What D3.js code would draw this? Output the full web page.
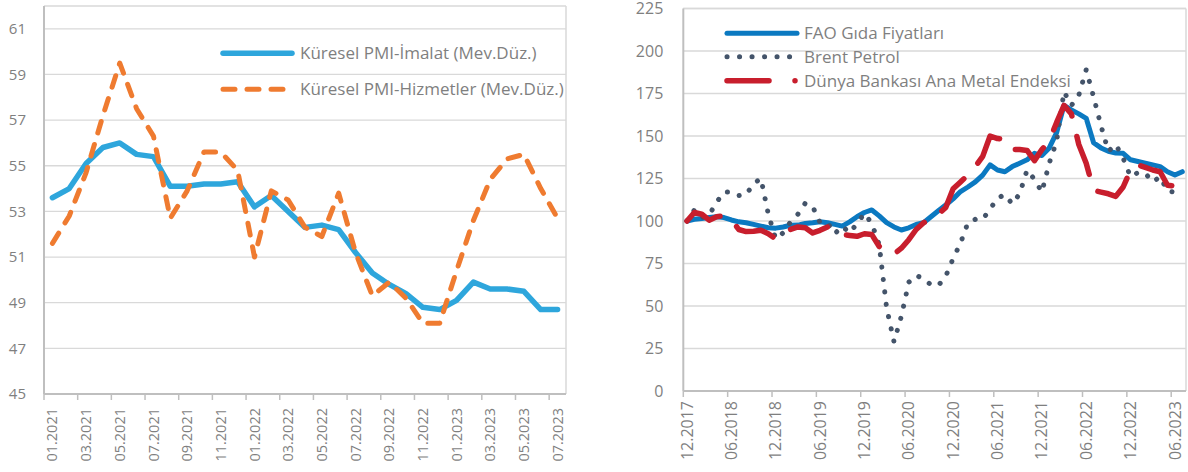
<!DOCTYPE html>
<html>
<head>
<meta charset="utf-8">
<script src="https://cdn.jsdelivr.net/npm/d3@7"></script>
<style>
body { margin: 0; background: #fff; }
svg { display: block; font-family: "Open Sans", sans-serif; }
</style>
</head>
<body>
<svg id="chart" width="1188" height="472"></svg>
<script>
const fmtMonth = d3.timeFormat('%m.%Y')

// left panel: global PMI
const pmiMonths = d3.timeMonths(new Date(2021, 0, 1), new Date(2023, 7, 1)).map(fmtMonth)
const pmiManufacturing = [53.6, 54.0, 55.1, 55.8, 56.0, 55.5, 55.4, 54.1, 54.1, 54.2, 54.2, 54.3,
    53.2, 53.7, 53.0, 52.3, 52.4, 52.2, 51.2, 50.3, 49.8, 49.4, 48.8, 48.7,
    49.1, 49.9, 49.6, 49.6, 49.5, 48.7, 48.7]
const pmiServices = [51.6, 52.8, 54.7, 57.2, 59.5, 57.5, 56.3, 52.7, 53.9, 55.6, 55.6, 54.8,
    51.0, 53.9, 53.5, 52.3, 51.9, 53.8, 51.2, 49.3, 49.9, 49.2, 48.1, 48.1,
    50.4, 52.6, 54.4, 55.3, 55.5, 54.0, 52.7]
const pmiTicks = [45, 47, 49, 51, 53, 55, 57, 59, 61]
const pmiNames = ['Küresel PMI-İmalat (Mev.Düz.)', 'Küresel PMI-Hizmetler (Mev.Düz.)']

// right panel: commodity indices, 12.2017 = 100
const cmdMonths = d3.timeMonths(new Date(2017, 11, 1), new Date(2023, 7, 1)).map(fmtMonth)
const faoFood = [100, 101, 101.5, 102, 102.5, 102, 100.6, 99.5, 99, 98, 97, 96,
    95.8, 96.5, 97.5, 97.6, 98.5, 99, 99.6, 99, 98, 97, 99.5, 102.5,
    105, 106.5, 103, 99, 96.5, 94.7, 96, 98, 99, 102.5, 106, 109.4,
    113, 117.3, 120, 123, 127, 133, 130, 129, 132, 134, 136, 139.8,
    138.5, 143, 152, 168, 165.3, 163, 160.4, 146, 143, 141, 140, 139.8,
    136, 135, 134, 133, 132, 129, 127, 129]
const brentOil = [100, 106.5, 102, 103.5, 111, 117, 117, 115, 115.5, 122, 125, 104,
    89.5, 93, 99.5, 104, 110.5, 108.5, 99, 99, 92.5, 97, 93, 98.5,
    104.5, 98.5, 86, 49, 29, 44, 64, 68, 66, 62.5, 62, 67.5,
    78, 87, 99, 101, 101, 107, 113.5, 115.5, 110, 116, 130, 124.5,
    117, 134, 147, 176, 168, 174, 189, 173, 156, 141, 145, 137,
    126, 128.5, 128, 123, 126, 117.5, 117, 119]
const wbMetals = [100, 105, 104, 100.5, 102.5, 103, 101, 95, 93.8, 94, 94.5, 92.5,
    89.5, 93, 95, 96.5, 96, 93, 94.5, 96.5, 94, 92, 91.5, 91,
    92.5, 92, 85, 82, 80.5, 84, 89, 95, 99, 101, 104, 108,
    119, 123, 127, 132, 138, 150, 148.5, 148, 142, 142, 141.5, 135.5,
    142, 147, 158, 168, 163, 145, 134, 118, 117, 116, 114.5, 120,
    130, 133, 131.5, 130, 129, 121, 120.5, 121]
const cmdTicks = [0, 25, 50, 75, 100, 125, 150, 175, 200, 225]
const cmdNames = ['FAO Gıda Fiyatları', 'Brent Petrol', 'Dünya Bankası Ana Metal Endeksi']

const svg = d3.select('#chart')
const textColor = '#7f7f7f'
const gridColor = '#d9d9d9'
const axisColor = '#bfbfbf'

function drawPanel(cfg) {
    const g = svg.append('g')
    const x = d3.scaleBand().domain(cfg.months).range([cfg.left, cfg.right]).padding(0)
    const y = d3.scaleLinear().domain(cfg.yDomain).range([cfg.bottom, cfg.top])
    const bw = x.bandwidth()

    // gridlines
    g.selectAll('.grid').data(cfg.yTicks).join('line')
        .attr('x1', cfg.left).attr('x2', cfg.right)
        .attr('y1', d => y(d)).attr('y2', d => y(d))
        .attr('stroke', gridColor).attr('stroke-width', 1.3)

    // frame top / right
    g.append('line').attr('x1', cfg.left).attr('x2', cfg.right).attr('y1', cfg.top).attr('y2', cfg.top)
        .attr('stroke', gridColor).attr('stroke-width', 1.5)
    g.append('line').attr('x1', cfg.right).attr('x2', cfg.right).attr('y1', cfg.top).attr('y2', cfg.bottom)
        .attr('stroke', gridColor).attr('stroke-width', 1.5)

    // y axis
    const yAxis = g.append('g').attr('transform', 'translate(' + cfg.left + ',0)')
        .call(d3.axisLeft(y).tickValues(cfg.yTicks).tickSize(0).tickPadding(cfg.yPad))
    yAxis.select('.domain').remove()
    yAxis.selectAll('.tick text').attr('fill', textColor).attr('font-size', cfg.yFont)
        .attr('font-family', '"Open Sans", sans-serif')

    // x labels (centered in category), ticks at category boundaries
    const labelled = cfg.months.filter((m, i) => i % cfg.every === 0)
    const xAxis = g.append('g').attr('transform', 'translate(0,' + cfg.bottom + ')')
        .call(d3.axisBottom(x).tickValues(labelled).tickSize(0))
    xAxis.select('.domain').remove()
    xAxis.selectAll('.tick text')
        .attr('transform', 'rotate(-90)')
        .attr('text-anchor', 'end')
        .attr('x', -cfg.xPad).attr('y', 0).attr('dy', '0.35em')
        .attr('fill', textColor).attr('font-size', cfg.xFont)
        .attr('font-family', '"Open Sans", sans-serif')

    g.selectAll('.xtick').data(labelled).join('line')
        .attr('x1', d => x(d)).attr('x2', d => x(d))
        .attr('y1', cfg.bottom).attr('y2', cfg.bottom + 6)
        .attr('stroke', axisColor).attr('stroke-width', 1.5)

    // axis lines
    g.append('line').attr('x1', cfg.left).attr('x2', cfg.left).attr('y1', cfg.top).attr('y2', cfg.bottom)
        .attr('stroke', axisColor).attr('stroke-width', 2)
    g.append('line').attr('x1', cfg.left).attr('x2', cfg.right).attr('y1', cfg.bottom).attr('y2', cfg.bottom)
        .attr('stroke', axisColor).attr('stroke-width', 2)

    const line = d3.line()
        .x((d, i) => x(cfg.months[i]) + bw / 2)
        .y(d => y(d))

    cfg.series.forEach(s => {
        g.append('path').datum(s.values)
            .attr('d', line)
            .attr('fill', 'none')
            .attr('stroke', s.color)
            .attr('stroke-width', s.width)
            .attr('stroke-linecap', 'round')
            .attr('stroke-linejoin', 'round')
            .attr('stroke-dasharray', s.dash || null)
    })

    // legend
    cfg.series.forEach((s, i) => {
        const ly = cfg.legend.y[i]
        const lg = g.append('g')
        if (s.legendDot) {
            lg.append('line').attr('x1', cfg.legend.x1).attr('x2', cfg.legend.x1 + 42)
                .attr('y1', ly).attr('y2', ly)
                .attr('stroke', s.color).attr('stroke-width', s.width).attr('stroke-linecap', 'round')
            lg.append('circle').attr('cx', cfg.legend.x2 - 2).attr('cy', ly).attr('r', s.width / 2)
                .attr('fill', s.color)
        } else {
            lg.append('line').attr('x1', cfg.legend.x1).attr('x2', cfg.legend.x2)
                .attr('y1', ly).attr('y2', ly)
                .attr('stroke', s.color).attr('stroke-width', s.width)
                .attr('stroke-linecap', 'round')
                .attr('stroke-dasharray', s.legendDash || s.dash || null)
        }
        lg.append('text').text(s.name)
            .attr('x', cfg.legend.tx).attr('y', ly).attr('dy', '0.35em')
            .attr('fill', textColor).attr('font-size', cfg.legend.font)
    })
}

drawPanel({
    months: pmiMonths, left: 44, right: 566, top: 6, bottom: 394,
    yDomain: [45, 62], yTicks: pmiTicks, every: 2,
    yPad: 18, yFont: 15, xPad: 14, xFont: 14.5,
    series: [
        { name: pmiNames[0], values: pmiManufacturing, color: '#2ea6dc', width: 5.5 },
        { name: pmiNames[1], values: pmiServices, color: '#ef7b30', width: 5, dash: '12,12' }
    ],
    legend: { x1: 223, x2: 292, tx: 300, y: [53.3, 89.3], font: 17 }
})

drawPanel({
    months: cmdMonths, left: 683.3, right: 1186, top: 8.5, bottom: 391,
    yDomain: [0, 225], yTicks: cmdTicks, every: 6,
    yPad: 20, yFont: 16, xPad: 10, xFont: 16,
    series: [
        { name: cmdNames[0], values: faoFood, color: '#0b79c1', width: 5 },
        { name: cmdNames[1], values: brentOil, color: '#44546a', width: 5, dash: '0.1,12.4' },
        { name: cmdNames[2], values: wbMetals, color: '#c81e2d', width: 5.5, dash: '40,21', legendDot: true }
    ],
    legend: { x1: 727, x2: 797, tx: 804, y: [33.3, 56.7, 80.7], font: 17 }
})
</script>
</body>
</html>
